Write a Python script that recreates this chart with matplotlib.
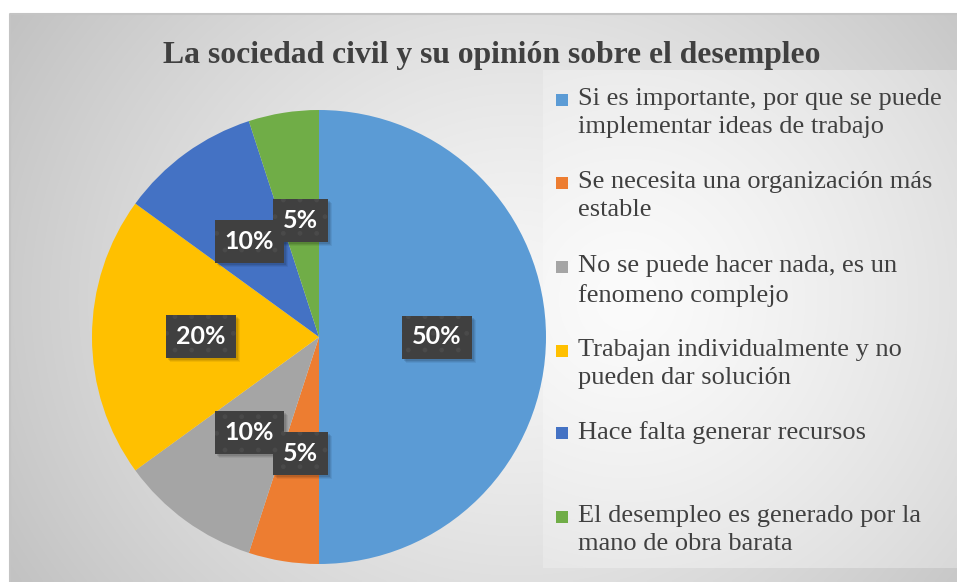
import numpy as np
import matplotlib
matplotlib.use("Agg")
import matplotlib.pyplot as plt
from matplotlib.patches import Rectangle
from matplotlib.transforms import IdentityTransform

categories = [
    "Si es importante, por que se puede\nimplementar ideas de trabajo",
    "Se necesita una organización más\nestable",
    "No se puede hacer nada, es un\nfenomeno complejo",
    "Trabajan individualmente y no\npueden dar solución",
    "Hace falta generar recursos",
    "El desempleo es generado por la\nmano de obra barata",
]
values = [50, 5, 10, 20, 10, 5]
colors = ["#5B9BD5", "#ED7D31", "#A5A5A5", "#FFC000", "#4472C4", "#70AD47"]
title = "La sociedad civil y su opinión sobre el desempleo"

W, H = 957, 582
fig = plt.figure(figsize=(W / 100, H / 100), dpi=100)


def px(x, y, w, h):
    # pixel box (top-left origin) -> figure fraction
    return [x / W, 1 - (y + h) / H, w / W, h / H]


def radial(nx, ny, cx, cy, c0, c1):
    yy, xx = np.mgrid[0:ny, 0:nx]
    d = np.sqrt((xx - cx) ** 2 + (yy - cy) ** 2)
    d = np.clip(d / d.max(), 0, 1)
    v = c0 + (c1 - c0) * d ** 1.3
    return np.dstack([v, v, v])


# chart background
bg = fig.add_axes(px(10, 14, W - 10, H - 14))
bg.imshow(radial(300, 200, 160, 100, 0.965, 0.76), aspect="auto",
          extent=(0, 1, 0, 1), interpolation="bilinear")
bg.plot([0, 0, 1], [0, 1, 1], color="#c4c4c4", lw=1.5, transform=bg.transAxes, clip_on=False)
bg.set_xlim(0, 1)
bg.set_ylim(0, 1)
bg.axis("off")

# legend background
lg = fig.add_axes(px(543, 70, W - 543, 498))
lg.imshow(radial(200, 240, 40, 110, 0.985, 0.85), aspect="auto",
          extent=(0, 1, 0, 1), interpolation="bilinear")
lg.axis("off")

fig.text(492 / W, 1 - 56 / H, title, ha="center", va="center",
         fontsize=22.8, fontweight="bold", family="Liberation Serif", color="#404040")

# pie
r = 227
ax = fig.add_axes(px(319 - r, 337 - r, 2 * r, 2 * r))
wedges, _, autotexts = ax.pie(
    values, colors=colors, startangle=90, counterclock=False,
    autopct="%1.0f%%", pctdistance=0.52,
    wedgeprops=dict(linewidth=0),
    textprops=dict(color="white", fontsize=18, fontweight="bold", family="Lato"))
ax.set_xlim(-1, 1)
ax.set_ylim(-1, 1)
ax.set_aspect("equal")

for t in autotexts:
    t.set_bbox(dict(boxstyle="square,pad=0.4", fc="#404040", ec="#4a4a4a",
                    lw=0, hatch="."))
    t.set_zorder(5)

# soft drop shadows under the label boxes
fig.canvas.draw()
renderer = fig.canvas.get_renderer()
for t in autotexts:
    bb = t.get_bbox_patch().get_window_extent(renderer)
    for k, a in [(4, 0.06), (3, 0.08), (2, 0.1)]:
        sh = Rectangle((bb.x0 + k, bb.y0 - k), bb.width, bb.height,
                       transform=IdentityTransform(), fc="black", ec="none",
                       alpha=a, zorder=4, clip_on=False)
        ax.add_artist(sh)

# legend entries
ys = [100, 183, 267, 351, 433, 517]
for lab, col, y in zip(categories, colors, ys):
    fig.patches.append(Rectangle((556 / W, 1 - (y + 6) / H), 12 / W, 12 / H,
                                 transform=fig.transFigure, fc=col, ec="none"))
    fig.text(578 / W, 1 - (y - 12) / H, lab, ha="left", va="top",
             fontsize=19, family="Liberation Serif", color="#404040",
             linespacing=1.38)

fig.savefig("out.png", dpi=100, facecolor="white")
